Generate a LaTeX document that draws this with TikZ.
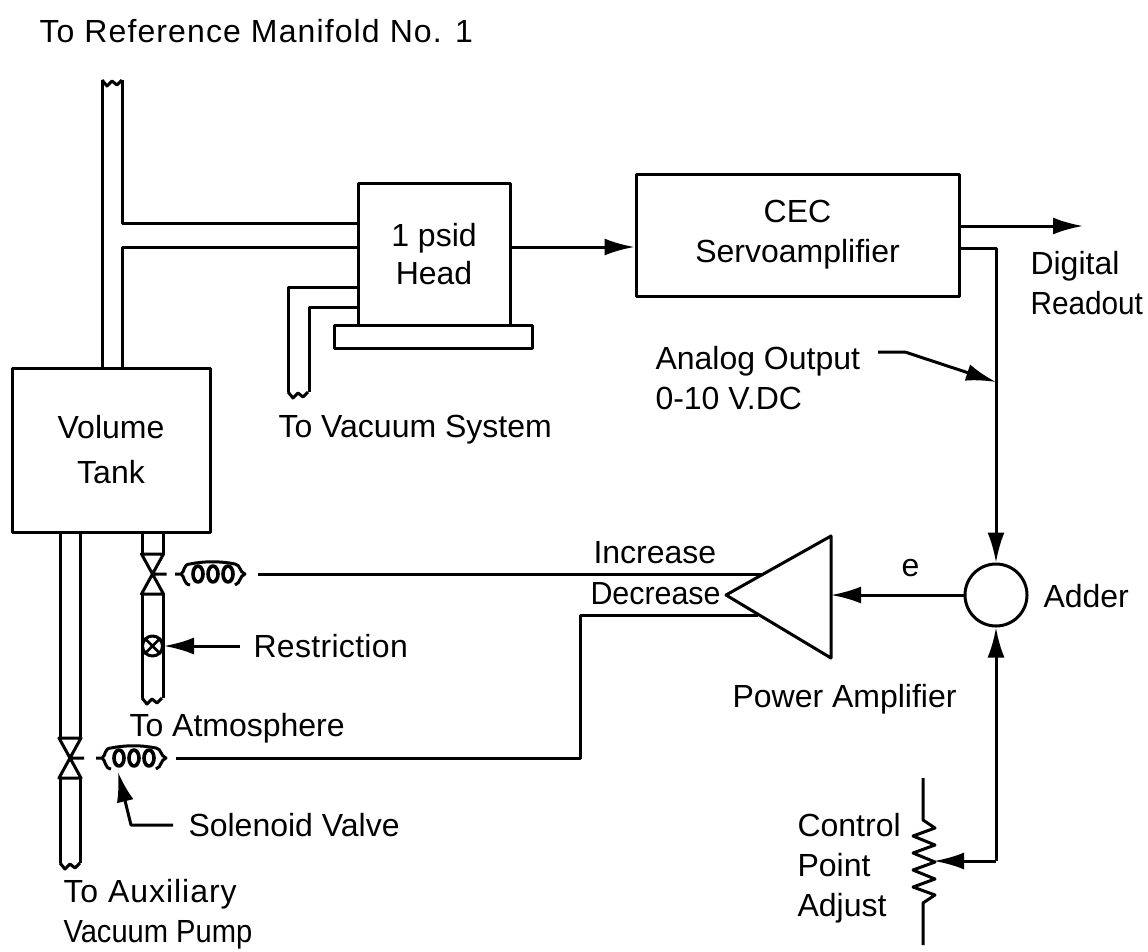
\documentclass[tikz,border=0pt]{standalone}
\usepackage{fontspec}
\setmainfont{Liberation Sans}
\usetikzlibrary{arrows.meta}
\tikzset{
  blockbox/.style={draw,align=center,inner sep=0pt},
  lab/.style={font=\fontsize{32}{40}\selectfont,inner sep=0pt,align=left,anchor=west},
  flow/.style={-{Latex[length=30pt,width=17pt]}},
  pipecut/.pic={\draw (0,0)--(5,6)--(10,1)--(15,5)--(20,0);},
  valve/.pic={\draw (-11,-20)--(11,-20)--(-11,20)--(11,20)--cycle (0,0)--(14,0);},
  coil/.pic={
    \draw (0,0)--(6,0) (15,-10) .. controls (8,-10) and (10,-2) .. (6,0) .. controls (10,2) and (8,10) .. (15,11);
    \draw (15,-10) .. controls (30,-13) and (45,-13) .. (60,-10) .. controls (66,-9) and (64,-2) .. (70,0) .. controls (64,2) and (66,9) .. (60,11);
    \foreach \x in {23,38,53} \draw[line width=3.6pt] (\x,0) ellipse (5 and 8);
  }
}
\begin{document}
\begin{tikzpicture}[x=1pt,y=-1pt,line width=3pt,line join=round]
  \useasboundingbox (0,0) rectangle (1148,951);
  % boxes
  \node[blockbox,minimum width=198pt,minimum height=164pt,font=\fontsize{32}{45}\selectfont] (tank) at (111,450) {Volume\\Tank};
  \node[blockbox,minimum width=198pt,minimum height=23pt] (base) at (433,336.5) {};
  \node[blockbox,minimum width=152pt,minimum height=142pt,font=\fontsize{32}{38}\selectfont] (head) at (434,254) {1 psid\\Head};
  \node[blockbox,minimum width=323pt,minimum height=122pt,font=\fontsize{32}{40}\selectfont] (servo) at (797.5,235) {CEC\\Servoamplifier};
  \node[draw,circle,minimum size=62pt,inner sep=0pt] (adder) at (996,595) {};
  \coordinate (ampA) at (726,595);
  \coordinate (ampB) at (831,536);
  \coordinate (ampC) at (831,658);
  \draw (ampA)--(ampB)--(ampC)--cycle;
  % upper pipe and branch
  \coordinate (pipeL) at (102,80);
  \coordinate (pipeR) at (122,80);
  \coordinate (teeA) at (122,223);
  \coordinate (teeB) at (122,247);
  \pic at (pipeL) {pipecut};
  \draw (pipeL)--(pipeL |- tank.north);
  \draw (pipeR)--(teeA)--(teeA -| head.west);
  \draw (teeB |- tank.north)--(teeB)--(teeB -| head.west);
  % vacuum line
  \coordinate (vacA) at (288,287);
  \coordinate (vacB) at (309,307);
  \coordinate (vacC) at (288,392);
  \coordinate (vacD) at (309,392);
  \draw (vacA -| head.west)--(vacA)--(vacC);
  \draw (vacB -| head.west)--(vacB)--(vacD);
  \pic at (vacC) {pipecut};
  % atmosphere line
  \coordinate (atmV) at (152.5,574);
  \coordinate (atmL) at (142,698);
  \coordinate (atmR) at (163,698);
  \draw (atmL |- tank.south)--(142,554) (atmR |- tank.south)--(163,554);
  \draw (142,594)--(atmL) (163,594)--(atmR);
  \pic at (atmV) {valve};
  \pic at (atmL) {pipecut};
  \node[draw,circle,minimum size=20pt,inner sep=0pt,fill=white] (restr) at (152.5,646) {};
  \draw[line width=2.5pt] (restr.45)--(restr.225) (restr.135)--(restr.315);
  \pic at (175,574) {coil};
  % pump line
  \coordinate (pumpV) at (70,758);
  \coordinate (pumpL) at (60,863);
  \coordinate (pumpR) at (80,863);
  \draw (pumpL |- tank.south)--(60,738) (pumpR |- tank.south)--(80,738);
  \draw (60,778)--(pumpL) (80,778)--(pumpR);
  \pic at (pumpV) {valve};
  \pic at (pumpL) {pipecut};
  \pic at (96,758) {coil};
  % control wires
  \coordinate (incR) at (763,574);
  \coordinate (incL) at (258,574);
  \coordinate (decR) at (758,615);
  \coordinate (decC) at (580,615);
  \coordinate (decL) at (176,758);
  \draw (incL)--(incR);
  \draw (decL)--(decL -| decC)--(decC)--(decR);
  % signal path
  \coordinate (outA) at (1083,226);
  \coordinate (outB) at (996,248);
  \draw[flow] (head.east |- teeB)--(servo.west |- teeB);
  \draw[flow] (servo.east |- outA)--(outA);
  \draw[flow] (servo.east |- outB)--(outB)--(adder.north);
  \draw[flow] (adder.west)--(ampB |- adder.west);
  % pot
  \coordinate (potTop) at (923,778);
  \coordinate (potEnd) at (923,945);
  \coordinate (wiper) at (934,861);
  \coordinate (wipeC) at (996,861);
  \draw (potTop)--(923,820)--(935,828)--(913,836)--(935,845)--(913,853)--(935,862)--(913,870)--(935,879)--(913,887)--(935,895)--(923,903)--(potEnd);
  \draw[flow] (adder.south |- wipeC)--(adder.south);
  \draw[flow] (wipeC)--(wiper);
  % leaders
  \coordinate (anaA) at (878,352);
  \coordinate (anaB) at (905,352);
  \coordinate (anaC) at (996,382);
  \draw[flow] (anaA)--(anaB)--(anaC);
  \coordinate (resA) at (240,646);
  \draw[flow] (resA)--(restr.east);
  \coordinate (solA) at (173,825);
  \coordinate (solB) at (131,825);
  \coordinate (solC) at (118,772);
  \draw[flow] (solA)--(solB)--(solC);
  % labels
  \node[lab,font=\fontsize{32}{40}\selectfont\addfontfeatures{LetterSpace=3.5}] (manifold) at (38,31) {To Reference Manifold No. 1};
  \node[lab] (readout) at (1029,283) {Digital\\{\addfontfeatures{FakeStretch=0.93}Readout}};
  \node[lab] (analog) at (654,378) {Analog Output\\0-10 V.DC};
  \node[lab] (vacuum) at (277,430) {To Vacuum System};
  \node[lab] (increase) at (592,553) {Increase};
  \node[lab,font=\fontsize{32}{40}\selectfont\addfontfeatures{FakeStretch=0.95}] (decrease) at (589,594) {Decrease};
  \node[lab] (err) at (900,568) {e};
  \node[lab] (addname) at (1042,596) {Adder};
  \node[lab,font=\fontsize{32}{40}\selectfont\addfontfeatures{LetterSpace=1}] (restrict) at (252,646) {Restriction};
  \node[lab] (poweramp) at (731,699) {Power Amplifier};
  \node[lab] (atmos) at (128,728) {To Atmosphere};
  \node[lab] (solenoid) at (187,825) {Solenoid Valve};
  \node[lab] (control) at (796,868) {Control\\Point\\Adjust};
  \node[lab] (pump) at (62,914) {{\addfontfeatures{LetterSpace=3}To Auxiliary}\\{\addfontfeatures{FakeStretch=0.91}Vacuum Pump}};
\end{tikzpicture}
\end{document}
